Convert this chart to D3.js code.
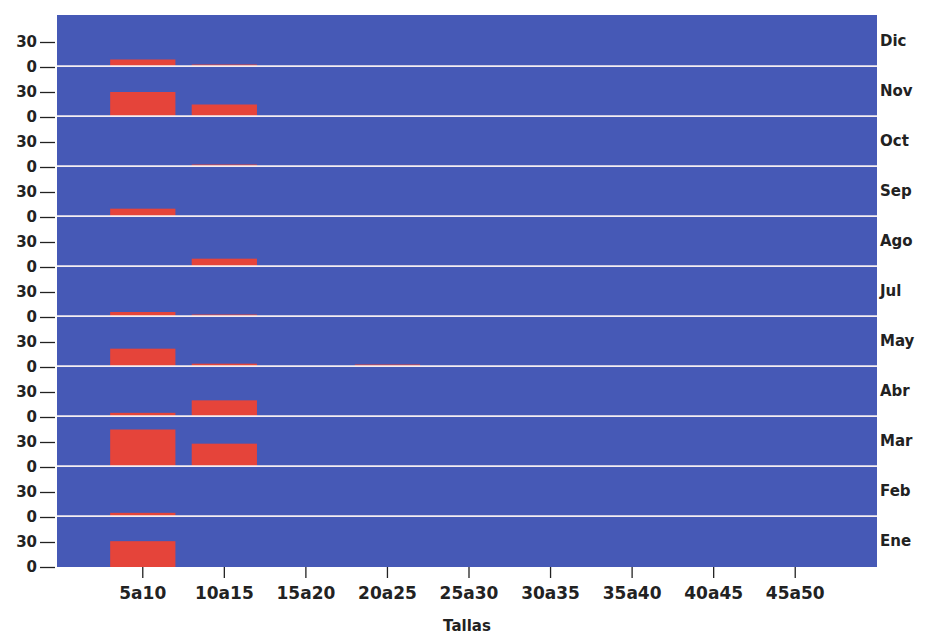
<!DOCTYPE html>
<html><head><meta charset="utf-8">
<script src="https://cdn.jsdelivr.net/npm/d3@7"></script>
<style>body{margin:0;background:#fff}svg{display:block}text{font-family:"DejaVu Sans",Arial,sans-serif;font-weight:bold}</style>
</head><body><svg id="c" width="932" height="634"></svg>
<script>
const sizes = ["5a10","10a15","15a20","20a25","25a30","30a35","35a40","40a45","45a50"];
const months = ["Dic","Nov","Oct","Sep","Ago","Jul","May","Abr","Mar","Feb","Ene"];
const yTicks = [0, 30];
// frequencies per month (rows) by size class (columns)
const vDic = [9, 3, 1, 0, 0, 0, 0, 0, 0];
const vNov = [30, 15, 0, 0, 0, 0, 0, 0, 0];
const vOct = [1, 3, 0, 1, 0, 0, 0, 0, 0];
const vSep = [10, 0, 0, 0, 0, 0, 0, 0, 1];
const vAgo = [0, 10, 0, 1, 0, 0, 0, 0, 0];
const vJul = [6, 3, 0, 0, 0, 0, 0, 0, 0];
const vMay = [22, 4, 0, 3, 0, 0, 0, 0, 0];
const vAbr = [5, 20, 0, 0, 0, 0, 0, 0, 0];
const vMar = [45, 28, 0, 0, 0, 0, 0, 0, 0];
const vFeb = [5, 0, 0, 0, 0, 0, 0, 0, 0];
const vEne = [31, 0, 0, 0, 0, 0, 0, 0, 0];
const values = [vDic, vNov, vOct, vSep, vAgo, vJul, vMay, vAbr, vMar, vFeb, vEne];

(function () {
const svg = d3.select("#c");
const L = 57, R = 877, T = 17, ph = 50;
const blue = "#4659b6", red = "#e5443a";
const FF = "DejaVu Sans, Arial, sans-serif";

const x = d3.scaleBand().domain(sizes).range([102, 836]).paddingInner(0.2).paddingOuter(0.1);
const y = d3.scaleLinear().domain([0, 60]).range([ph, 0]);

months.forEach((m, i) => {
  const g = svg.append("g").attr("transform", `translate(0,${T + i * ph})`);
  g.append("rect").attr("x", L).attr("y", i === 0 ? -2 : 0).attr("width", R - L)
    .attr("height", i === 0 ? ph + 2 : ph).attr("fill", blue);
  g.selectAll("rect.bar").data(values[i]).join("rect").attr("class", "bar")
    .attr("x", (d, j) => x(sizes[j])).attr("width", x.bandwidth())
    .attr("y", d => y(d)).attr("height", d => y(0) - y(d)).attr("fill", red);
  if (i < months.length - 1) {
    g.append("line").attr("x1", L).attr("x2", R).attr("y1", ph + 1.5).attr("y2", ph + 1.5)
      .attr("stroke", "#2c3570").attr("stroke-width", 1);
    g.append("line").attr("x1", L).attr("x2", R).attr("y1", ph - 0.5).attr("y2", ph - 0.5)
      .attr("stroke", "#f4eef0").attr("stroke-width", 2.5);
  }
  const ax = g.append("g").attr("transform", `translate(${L - 2},0)`)
    .call(d3.axisLeft(y).tickValues(yTicks).tickSize(15).tickPadding(3));
  ax.select(".domain").remove();
  ax.selectAll("line").attr("stroke", "#222").attr("stroke-width", 1.3);
  ax.selectAll("text").attr("font-size", 15).attr("fill", "#222").attr("font-family", FF);
  g.append("text").attr("x", R + 3).attr("y", ph / 2 - 1).attr("dy", "0.35em")
    .attr("font-size", 15).attr("fill", "#222").text(m);
});

const B = T + months.length * ph;
const xa = svg.append("g").attr("transform", `translate(0,${B})`)
  .call(d3.axisBottom(x).tickSize(11).tickPadding(9));
xa.select(".domain").remove();
xa.selectAll("line").attr("stroke", "#222").attr("stroke-width", 1.3);
xa.selectAll("text").attr("font-size", 17).attr("fill", "#222").attr("font-family", FF);
svg.append("text").attr("x", 467).attr("y", 631).attr("text-anchor", "middle")
  .attr("font-size", 15).attr("fill", "#222").text("Tallas");
})();
</script></body></html>
